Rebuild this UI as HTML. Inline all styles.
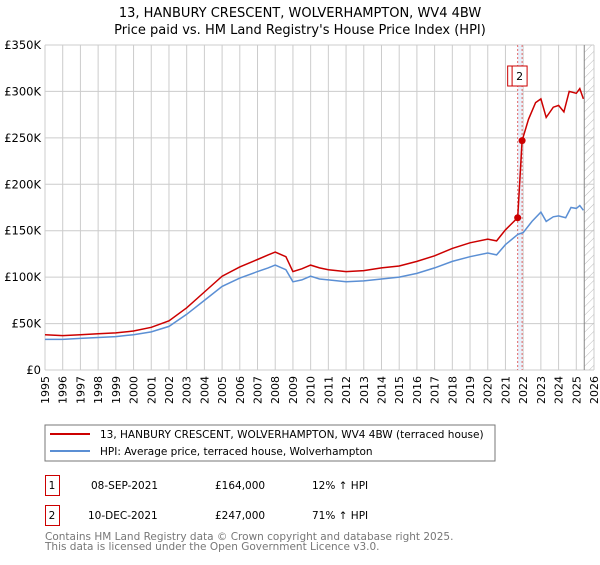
<!DOCTYPE html>
<html><head><meta charset="utf-8"><style>
body{margin:0;background:#fff;font-family:"Liberation Sans","DejaVu Sans",sans-serif;}
svg text{font-family:"DejaVu Sans","Liberation Sans",sans-serif;}
</style></head><body>
<svg id="c" width="600" height="560" viewBox="0 0 600 560" xmlns="http://www.w3.org/2000/svg">
<defs><pattern id="h" width="6" height="6" patternUnits="userSpaceOnUse" patternTransform="rotate(45)"><line x1="0" y1="0" x2="0" y2="6" stroke="#bbb" stroke-width="1"/></pattern></defs>
<text x="300" y="17" text-anchor="middle" font-size="13" fill="#000">13, HANBURY CRESCENT, WOLVERHAMPTON, WV4 4BW</text>
<text x="300" y="34" text-anchor="middle" font-size="13" fill="#000">Price paid vs. HM Land Registry's House Price Index (HPI)</text>
<g id="grid"></g><g id="marks"></g>
<rect x="45" y="425" width="450" height="36" fill="#fff" stroke="#777"/>
<line x1="50" y1="434" x2="90" y2="434" stroke="#cc0000" stroke-width="2"/>
<text x="100" y="438" font-size="10.5">13, HANBURY CRESCENT, WOLVERHAMPTON, WV4 4BW (terraced house)</text>
<line x1="50" y1="451" x2="90" y2="451" stroke="#5b8fd4" stroke-width="2"/>
<text x="100" y="455" font-size="10.5">HPI: Average price, terraced house, Wolverhampton</text>
<g font-size="10.5">
<rect x="45.5" y="475.5" width="14" height="20" fill="none" stroke="#cc0000"/>
<text x="52" y="489" text-anchor="middle">1</text>
<text x="91" y="489">08-SEP-2021</text><text x="215" y="489">£164,000</text><text x="312" y="489">12% ↑ HPI</text>
<rect x="45.5" y="505.5" width="14" height="20" fill="none" stroke="#cc0000"/>
<text x="52" y="519" text-anchor="middle">2</text>
<text x="88" y="519">10-DEC-2021</text><text x="215" y="519">£247,000</text><text x="312" y="519">71% ↑ HPI</text>
</g>
<text x="45" y="540" font-size="10.5" fill="#777">Contains HM Land Registry data © Crown copyright and database right 2025.</text>
<text x="45" y="550" font-size="10.5" fill="#777">This data is licensed under the Open Government Licence v3.0.</text>
</svg>
<script>
const yTicks=[0,50,100,150,200,250,300,350];
const yTickLabels=["£0","£50K","£100K","£150K","£200K","£250K","£300K","£350K"];
const xYears=[1995,1996,1997,1998,1999,2000,2001,2002,2003,2004,2005,2006,2007,2008,2009,2010,2011,2012,2013,2014,2015,2016,2017,2018,2019,2020,2021,2022,2023,2024,2025,2026];
const hpiT=[1995,1996,1997,1998,1999,2000,2001,2002,2003,2004,2005,2006,2007,2007.6,2008,2008.6,2009,2009.5,2010,2010.5,2011,2012,2013,2014,2015,2016,2017,2018,2019,2020,2020.5,2021,2021.7,2022,2022.5,2023,2023.3,2023.7,2024,2024.4,2024.7,2025,2025.2,2025.4];
const hpiV=[33,33,34,35,36,38,41,47,60,75,90,99,106,110,113,108,95,97,101,98,97,95,96,98,100,104,110,117,122,126,124,135,146,148,160,170,160,165,166,164,175,174,177,172];
const saleT=[1995,1996,1997,1998,1999,2000,2001,2002,2003,2004,2005,2006,2007,2007.6,2008,2008.6,2009,2009.5,2010,2010.5,2011,2012,2013,2014,2015,2016,2017,2018,2019,2020,2020.5,2021,2021.69,2021.94,2022.3,2022.7,2023,2023.3,2023.7,2024,2024.3,2024.6,2025,2025.2,2025.4];
const saleV=[38,37,38,39,40,42,46,53,67,84,101,111,119,124,127,122,106,109,113,110,108,106,107,110,112,117,123,131,137,141,139,151,164,247,270,288,292,272,283,285,278,300,298,303,292];
const salesT=[2021.69,2021.94];
const salesV=[164,247];
const salesLbl=["1","2"];
const X0=45,X1=594,Y0=370,Y1=45;
const xs=t=>X0+(t-1995)*(X1-X0)/31;
const ys=v=>Y0-v*(Y0-Y1)/350;
const NS="http://www.w3.org/2000/svg";
function mk(tag,at,par){const e=document.createElementNS(NS,tag);for(const k in at)e.setAttribute(k,at[k]);par.appendChild(e);return e;}
const g=document.getElementById('grid'),m=document.getElementById('marks');
mk('rect',{x:X0,y:Y1,width:X1-X0,height:Y0-Y1,fill:'#fff'},g);
yTicks.forEach((v,i)=>{mk('line',{x1:X0,x2:X1,y1:ys(v),y2:ys(v),stroke:'#ccc'},g);
const t=mk('text',{x:X0-4,y:ys(v)+4,'text-anchor':'end','font-size':'11.5'},g);t.textContent=yTickLabels[i];

});
xYears.forEach(y=>{mk('line',{x1:xs(y),x2:xs(y),y1:Y1,y2:Y0,stroke:'#ccc'},g);
const x=xs(y);
const t=mk('text',{x:x,y:Y0+6,'text-anchor':'end','font-size':'11',transform:`rotate(-90 ${x} ${Y0+6}) translate(0 4)`},g);t.textContent=y;

});
const hx=xs(2025.45);
const hr=mk('rect',{x:hx,y:Y1,width:X1-hx,height:Y0-Y1,fill:'url(#h)'},g);


mk('line',{x1:hx,x2:hx,y1:Y1,y2:Y0,stroke:'#888'},g);
const band=mk('rect',{x:xs(salesT[0]),y:Y1,width:xs(salesT[1])-xs(salesT[0]),height:Y0-Y1,fill:'#e8f0fb'},m);


salesT.forEach(t=>{const l=mk('line',{x1:xs(t),x2:xs(t),y1:Y1,y2:Y0,stroke:'#e06666','stroke-dasharray':'2,2'},m);

});
const pts=(T,V)=>T.map((t,i)=>xs(t).toFixed(1)+','+ys(V[i]).toFixed(1)).join(' ');
const hl=mk('polyline',{points:pts(hpiT,hpiV),fill:'none',stroke:'#5b8fd4','stroke-width':1.5},m);


const sl=mk('polyline',{points:pts(saleT,saleV),fill:'none',stroke:'#cc0000','stroke-width':1.5},m);


salesT.forEach((t,i)=>{const c=mk('circle',{cx:xs(t),cy:ys(salesV[i]),r:3.5,fill:'#cc0000'},m);


const bx=xs(t)-10;
const r=mk('rect',{x:bx,y:66,width:15,height:20,fill:'#fff',stroke:'#cc0000'},m);


const tx=mk('text',{x:bx+7.5,y:80,'text-anchor':'middle','font-size':'11'},m);tx.textContent=salesLbl[i];

});
</script>
</body></html>
